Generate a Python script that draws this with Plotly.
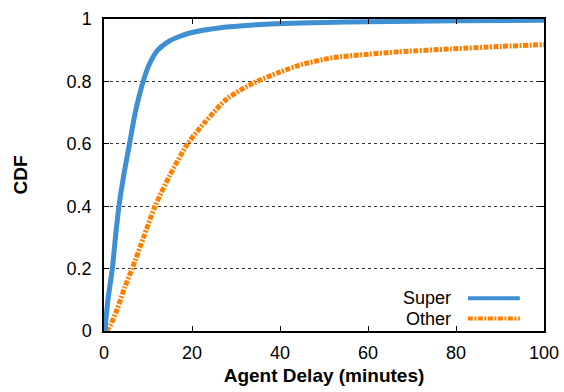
import plotly.graph_objects as go

# Data
super_x = [0.2, 0.9, 1.9, 2.6, 3.4, 4.5, 5.8, 7.1, 8.9, 10.3, 12.2, 14.9, 17, 19.5, 24, 28.6, 34, 39, 50, 60, 80, 100]
super_y = [0.0, 0.1, 0.2, 0.3, 0.4, 0.5, 0.6, 0.7, 0.8, 0.855, 0.9, 0.93, 0.943, 0.955, 0.967, 0.975, 0.981, 0.985, 0.989, 0.991, 0.994, 0.996]
other_x = [0.5, 1.5, 3.0, 4.7, 6.4, 9.0, 11.6, 15, 19, 23, 28, 34, 40, 44.6, 52, 60, 67, 79, 90, 100]
other_y = [0.0, 0.02, 0.07, 0.14, 0.2, 0.3, 0.4, 0.5, 0.6, 0.67, 0.745, 0.795, 0.83, 0.853, 0.876, 0.887, 0.895, 0.904, 0.912, 0.918]

x_ticks = [0, 20, 40, 60, 80, 100]
y_ticks = [0, 0.2, 0.4, 0.6, 0.8, 1]
y_tick_text = ["0", "0.2", "0.4", "0.6", "0.8", "1"]
series_names = ["Super", "Other"]

BLUE = "#3f8fd3"
ORANGE = "#ff8000"
FONT = "Liberation Sans, Arial, Helvetica, sans-serif"
ODASH = "5px,1.5px,2px,1.5px"

fig = go.Figure()
fig.add_trace(go.Scatter(x=other_x, y=other_y, mode="lines", name=series_names[1],
                         line=dict(color=ORANGE, width=5, dash=ODASH, shape="spline", smoothing=0.7),
                         showlegend=False))
fig.add_trace(go.Scatter(x=super_x, y=super_y, mode="lines", name=series_names[0],
                         line=dict(color=BLUE, width=5, shape="spline", smoothing=0.7),
                         showlegend=False))

# Legend drawn manually (text left of sample, as in reference)
leg_y = [0.105, 0.04]
for name, yy, col, dash in zip(series_names, leg_y, [BLUE, ORANGE], ["solid", ODASH]):
    fig.add_annotation(xref="paper", yref="paper", x=0.794, y=yy, text=name, showarrow=False,
                       xanchor="right", yanchor="middle", font=dict(family=FONT, size=18, color="black"))
    fig.add_shape(type="line", xref="paper", yref="paper", x0=0.827, x1=0.945, y0=yy, y1=yy,
                  line=dict(color=col, width=4, dash=dash))

fig.update_layout(
    width=564, height=392,
    margin=dict(l=104, r=20, t=19, b=61),
    plot_bgcolor="white", paper_bgcolor="white",
    font=dict(family=FONT, size=18, color="black"),
)
fig.update_xaxes(range=[0, 100], tickvals=x_ticks, ticks="inside", ticklen=5, tickcolor="black",
                 showline=True, linecolor="black", linewidth=1.5, mirror="ticks", showgrid=False,
                 zeroline=False, tickfont=dict(size=18), ticklabelstandoff=5, automargin=False,
                 title=dict(text="<b>Agent Delay (minutes)</b>", font=dict(size=19), standoff=6))
fig.update_yaxes(range=[0, 1], tickvals=y_ticks, ticktext=y_tick_text, ticks="inside", ticklen=5,
                 tickcolor="black", showline=True, linecolor="black", linewidth=1.5, mirror="ticks",
                 showgrid=True, gridcolor="#333333", griddash="dot", gridwidth=0.8, zeroline=False,
                 tickfont=dict(size=18), ticklabelstandoff=7, automargin=False,
                 title=dict(text="<b>CDF</b>", font=dict(size=19), standoff=34))

fig.write_html("out.html")
